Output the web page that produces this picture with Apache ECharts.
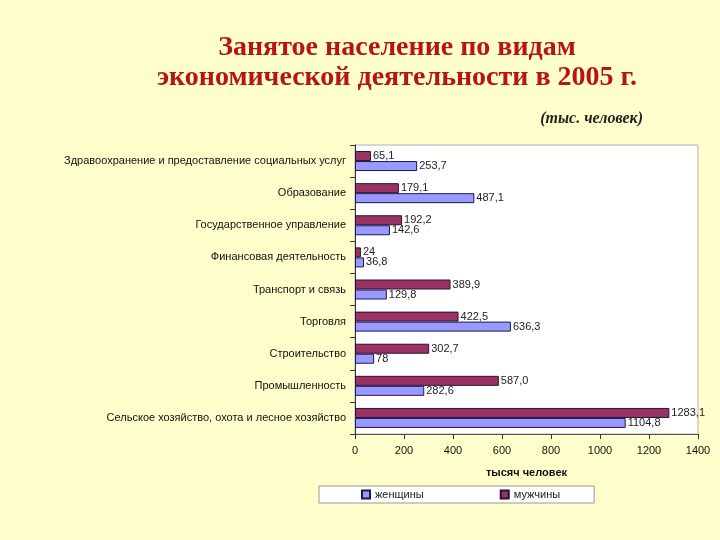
<!DOCTYPE html>
<html><head><meta charset="utf-8">
<script src="https://cdn.jsdelivr.net/npm/echarts@6/dist/echarts.min.js"></script>
<style>html,body{margin:0;padding:0;background:#FFFFCC;}#c{width:720px;height:540px;}</style>
</head><body><div id="c"></div>
<script>
// categories bottom-to-top (ECharts category y axis starts at bottom)
var categories = [
  'Сельское хозяйство, охота и лесное хозяйство',
  'Промышленность',
  'Строительство',
  'Торговля',
  'Транспорт и связь',
  'Финансовая деятельность',
  'Государственное управление',
  'Образование',
  'Здравоохранение и предоставление социальных услуг'
];
var womenValues = [1104.8, 282.6, 78, 636.3, 129.8, 36.8, 142.6, 487.1, 253.7];
var menValues   = [1283.1, 587.0, 302.7, 422.5, 389.9, 24, 192.2, 179.1, 65.1];
var womenLabels = ['1104,8', '282,6', '78', '636,3', '129,8', '36,8', '142,6', '487,1', '253,7'];
var menLabels   = ['1283,1', '587,0', '302,7', '422,5', '389,9', '24', '192,2', '179,1', '65,1'];
var xTicks = [0, 200, 400, 600, 800, 1000, 1200, 1400];

var chart = echarts.init(document.getElementById('c'));
chart.setOption({
  backgroundColor: '#FFFFCC',
  animation: false,
  graphic: [
    {type: 'text', x: 397, y: 48, style: {text: 'Занятое население по видам', textAlign: 'center', textVerticalAlign: 'middle', font: 'bold 28px "Liberation Serif", serif', fill: '#B81414'}},
    {type: 'text', x: 397, y: 78, style: {text: 'экономической деятельности в 2005 г.', textAlign: 'center', textVerticalAlign: 'middle', font: 'bold 28px "Liberation Serif", serif', fill: '#B81414'}},
    {type: 'text', x: 643, y: 119, style: {text: '(тыс. человек)', textAlign: 'right', textVerticalAlign: 'middle', font: 'italic bold 16px "Liberation Serif", serif', fill: '#222'}}
  ],
  grid: {left: 355, right: 22, top: 145, bottom: 106, show: true, backgroundColor: '#FFFFFF', borderColor: '#B0B0B0', borderWidth: 1},
  legend: {
    data: ['женщины', 'мужчины'],
    left: 319, top: 486,
    orient: 'horizontal',
    backgroundColor: '#FFFFFF', borderColor: '#999999', borderWidth: 1, borderRadius: 0,
    padding: [3, 34, 3, 42],
    itemWidth: 8, itemHeight: 8, itemGap: 76,
    icon: 'rect',
    textStyle: {fontFamily: '"Liberation Sans", Arial, sans-serif', fontSize: 11, color: '#222'}
  },
  xAxis: {
    type: 'value', min: 0, max: 1400, interval: 200,
    name: 'тысяч человек', nameLocation: 'middle', nameGap: 33,
    nameTextStyle: {fontFamily: '"Liberation Sans", Arial, sans-serif', fontSize: 11, fontWeight: 'bold', color: '#111'},
    axisLine: {show: true, lineStyle: {color: '#555'}},
    axisTick: {show: true, length: 5, lineStyle: {color: '#333'}},
    splitLine: {show: false},
    axisLabel: {fontFamily: '"Liberation Sans", Arial, sans-serif', fontSize: 11, color: '#111', margin: 11,
      formatter: function (v) { return xTicks.indexOf(v) >= 0 ? String(v) : ''; }}
  },
  yAxis: {
    type: 'category', data: categories,
    axisLine: {show: true, lineStyle: {color: '#333'}},
    axisTick: {show: true, length: 5, alignWithLabel: false, lineStyle: {color: '#333'}},
    axisLabel: {fontFamily: '"Liberation Sans", Arial, sans-serif', fontSize: 11, color: '#111', margin: 9}
  },
  series: [
    {
      name: 'мужчины', type: 'bar', data: menValues, barWidth: 10, barGap: '0%',
      itemStyle: {color: '#993366', borderColor: '#2a1030', borderWidth: 1},
      label: {show: true, position: 'right', distance: 2, fontFamily: '"Liberation Sans", Arial, sans-serif', fontSize: 11, color: '#222',
        formatter: function (p) { return menLabels[p.dataIndex]; }}
    },
    {
      name: 'женщины', type: 'bar', data: womenValues, barWidth: 10, barGap: '0%',
      itemStyle: {color: '#9999FF', borderColor: '#1a1a50', borderWidth: 1},
      label: {show: true, position: 'right', distance: 2, fontFamily: '"Liberation Sans", Arial, sans-serif', fontSize: 11, color: '#222',
        formatter: function (p) { return womenLabels[p.dataIndex]; }}
    }
  ]
});
</script>
</body></html>
